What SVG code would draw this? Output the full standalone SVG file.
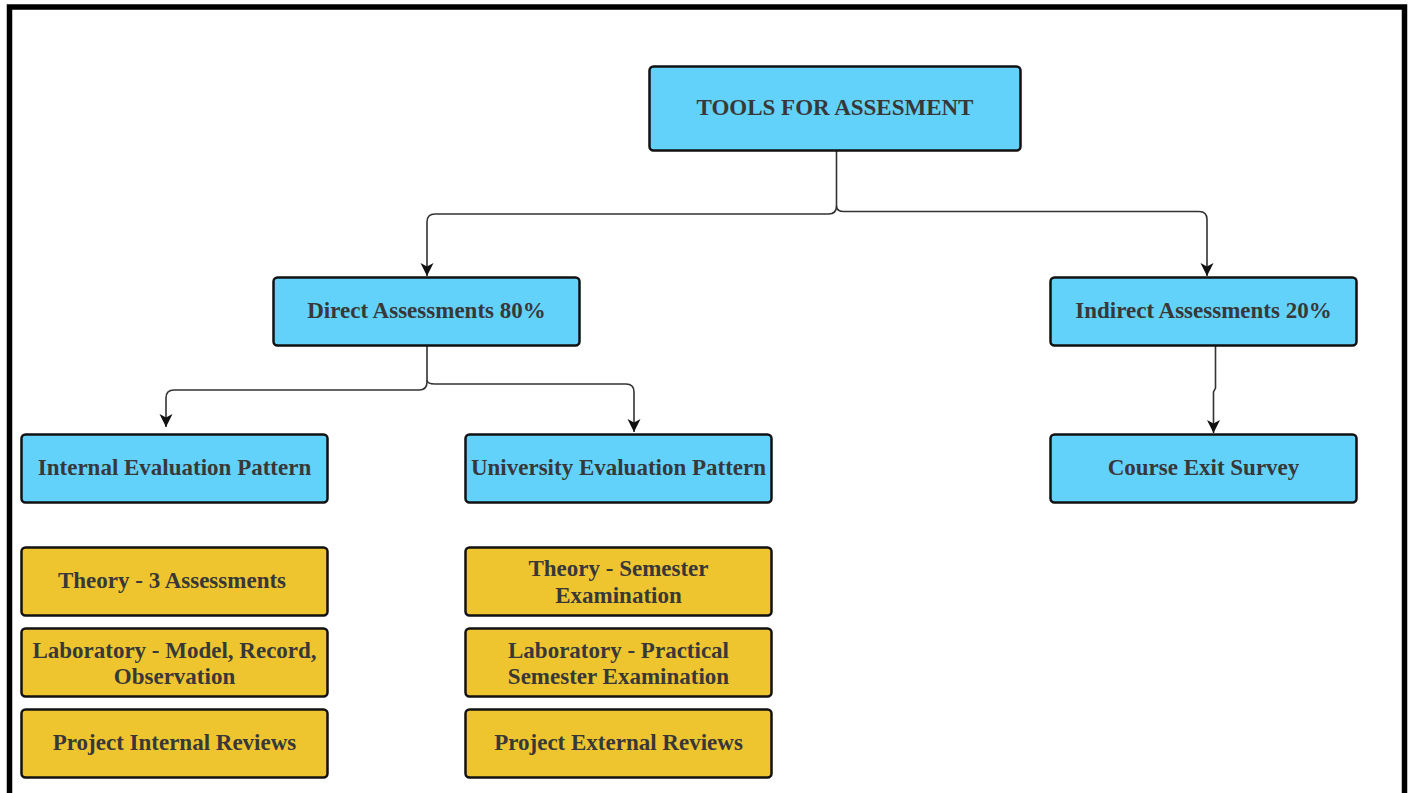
<svg xmlns="http://www.w3.org/2000/svg" width="1410" height="793" viewBox="0 0 1410 793">
<style>
.blue{fill:#63d2fb;stroke:#111;stroke-width:2.5}
.yel{fill:#efc52f;stroke:#111;stroke-width:2.5}
.t{font-family:"Liberation Serif","Times New Roman",serif;font-weight:bold;font-size:23px;fill:#383838;text-anchor:middle}
.c{fill:none;stroke:#333;stroke-width:1.6}
</style>
<defs>
<marker id="arr" markerWidth="16" markerHeight="16" refX="13" refY="6.5" orient="auto" markerUnits="userSpaceOnUse">
<path d="M0,0 L13,6.5 L0,13 L3.5,6.5 z" fill="#111"/>
</marker>
</defs>
<rect x="0" y="0" width="1410" height="793" fill="#fff"/>
<rect x="9.5" y="7" width="1395" height="820" fill="none" stroke="#000" stroke-width="5.5"/>
<g id="connectors">
<path class="c" d="M836.5,151 V206 Q836.5,214 828.5,214 H435 Q427,214 427,222 V276" marker-end="url(#arr)"/>
<path class="c" d="M836.5,206 Q836.5,211.5 844,211.5 H1199 Q1207,211.5 1207,219.5 V276" marker-end="url(#arr)"/>
<path class="c" d="M427,346 V382 Q427,390 419,390 H174 Q166,390 166,398 V427" marker-end="url(#arr)"/>
<path class="c" d="M427,380 Q427,384 435,384 H626 Q634,384 634,392 V432" marker-end="url(#arr)"/>
<path class="c" d="M1215.5,346 V388 L1213.5,392 V433" marker-end="url(#arr)"/>
</g>
<g id="root"><rect class="blue" x="649.5" y="66.5" width="371" height="84" rx="4"/><text class="t" x="835" y="115">TOOLS FOR ASSESMENT</text></g>
<g id="direct"><rect class="blue" x="273.5" y="277.5" width="306" height="68" rx="4"/><text class="t" x="426.5" y="318">Direct Assessments 80%</text></g>
<g id="indirect"><rect class="blue" x="1050.5" y="277.5" width="306" height="68" rx="4"/><text class="t" x="1203.5" y="318">Indirect Assessments 20%</text></g>
<g id="internal"><rect class="blue" x="21.5" y="434.5" width="306" height="68" rx="4"/><text class="t" x="174.5" y="475">Internal Evaluation Pattern</text></g>
<g id="university"><rect class="blue" x="465.5" y="434.5" width="306" height="68" rx="4"/><text class="t" x="618.5" y="475">University Evaluation Pattern</text></g>
<g id="survey"><rect class="blue" x="1050.5" y="434.5" width="306" height="68" rx="4"/><text class="t" x="1203.5" y="475">Course Exit Survey</text></g>
<g id="theory3"><rect class="yel" x="21.5" y="547.5" width="306" height="68" rx="4"/><text class="t" x="172" y="588">Theory - 3 Assessments</text></g>
<g id="labmodel"><rect class="yel" x="21.5" y="628.5" width="306" height="68" rx="4"/><text class="t" x="174.5" y="658">Laboratory - Model, Record,</text><text class="t" x="174.5" y="684">Observation</text></g>
<g id="projint"><rect class="yel" x="21.5" y="709.5" width="306" height="68" rx="4"/><text class="t" x="174.5" y="750">Project Internal Reviews</text></g>
<g id="theorysem"><rect class="yel" x="465.5" y="547.5" width="306" height="68" rx="4"/><text class="t" x="618.5" y="576">Theory - Semester</text><text class="t" x="618.5" y="603">Examination</text></g>
<g id="labprac"><rect class="yel" x="465.5" y="628.5" width="306" height="68" rx="4"/><text class="t" x="618.5" y="658">Laboratory - Practical</text><text class="t" x="618.5" y="684">Semester Examination</text></g>
<g id="projext"><rect class="yel" x="465.5" y="709.5" width="306" height="68" rx="4"/><text class="t" x="618.5" y="750">Project External Reviews</text></g>
</svg>
